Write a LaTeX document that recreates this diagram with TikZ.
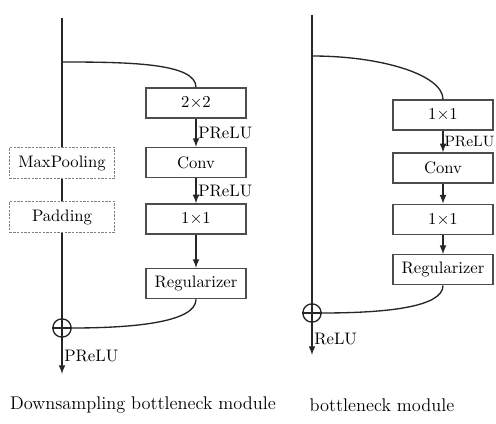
\documentclass[tikz,border=0pt]{standalone}
\usetikzlibrary{positioning}
\tikzstyle{every node}=[font=\normalsize]
\tikzstyle{layer} = [rectangle,draw=black!70,thick,minimum width=60pt,minimum height=18pt,inner sep=1pt]
\tikzstyle{optlayer} = [rectangle,draw=black!50,thick,dash pattern=on 1.4pt off 0.8pt,minimum width=63pt,minimum height=18.6pt,inner sep=1pt]
\tikzstyle{arrow} = [thick,->,>=latex,black!85]
\tikzstyle{line} = [thick,black!85]
\tikzstyle{act} = [right,inner sep=1pt,black]
\tikzstyle{addop} = [circle,draw=black!85,thick,minimum size=11pt,inner sep=0pt]
\tikzstyle{caption} = [font=\fontsize{11}{13}\selectfont]
\tikzstyle{branch} = [line,out=0,in=90,out looseness=1.3,in looseness=0.45]
\tikzstyle{merge} = [line,out=-90,in=0,out looseness=0.45,in looseness=1.3]

\begin{document}
\begin{tikzpicture}[x=0.6pt,y=-0.6pt]
\useasboundingbox[fill=white] (0,0) rectangle (496,424);

% downsampling bottleneck
\node (d1) [layer] at (196,103) {2$\times$2};
\node (d2) [layer, below=17pt of d1] {Conv};
\node (d3) [layer, below=15pt of d2] {1$\times$1};
\node (d4) [layer, below=20pt of d3] {Regularizer};
\node (mp) [optlayer] at (62,163) {MaxPooling};
\node (pad) [optlayer, below=13pt of mp] {Padding};
\node (dadd) [addop] at (62,328) {};
\coordinate (din) at (62,18);
\coordinate (dsplit) at (62,62);
\coordinate (dout) at (62,374);

\draw [line] (din) -- (mp);
\draw [line] (mp) -- (pad);
\draw [line] (pad) -- (dadd);
\draw [line] (dadd.north) -- (dadd.south);
\draw [line] (dadd.west) -- (dadd.east);
\draw [arrow] (dadd) -- node[act] {PReLU} (dout);
\draw [branch] (dsplit) to (d1.north);
\draw [arrow] (d1) -- node[act] {PReLU} (d2);
\draw [arrow] (d2) -- node[act] {PReLU} (d3);
\draw [arrow] (d3) -- (d4);
\draw [merge] (d4.south) to (dadd.east);

% bottleneck
\node (b1) [layer] at (443,115) {1$\times$1};
\node (b2) [layer, below=13pt of b1] {Conv};
\node (b3) [layer, below=12pt of b2] {1$\times$1};
\node (b4) [layer, below=11.5pt of b3] {Regularizer};
\node (badd) [addop] at (312,313) {};
\coordinate (bin) at (312,15);
\coordinate (bsplit) at (312,56);
\coordinate (bout) at (312,355);

\draw [line] (bin) -- (badd);
\draw [line] (badd.north) -- (badd.south);
\draw [line] (badd.west) -- (badd.east);
\draw [arrow] (badd) -- node[act] {ReLU} (bout);
\draw [branch] (bsplit) to (b1.north);
\draw [arrow] (b1) -- node[act,inner sep=0.5pt,font=\small] {PReLU} (b2);
\draw [arrow] (b2) -- (b3);
\draw [arrow] (b3) -- (b4);
\draw [merge] (b4.south) to (badd.east);

\node (dcap) [caption] at (143,405) {Downsampling bottleneck module};
\node (bcap) [caption] at (382,405) {bottleneck module};
\end{tikzpicture}
\end{document}
